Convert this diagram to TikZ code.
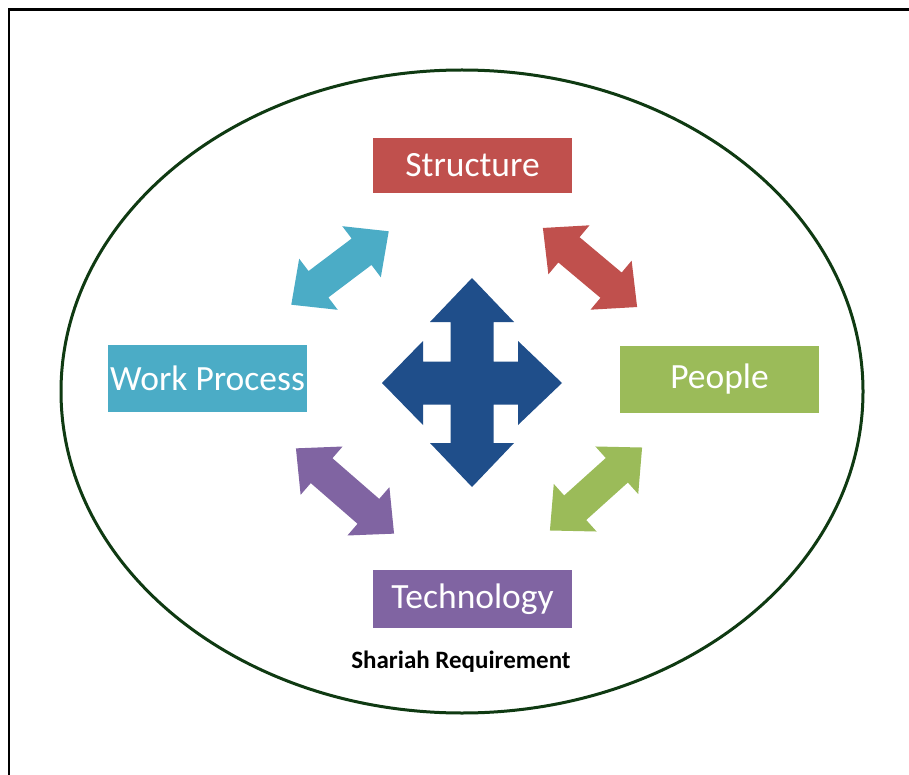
\documentclass[tikz,border=0pt]{standalone}
\usepackage{fontspec}
\setmainfont{Carlito}
\definecolor{cred}{HTML}{C0504D}
\definecolor{caqua}{HTML}{4BACC6}
\definecolor{cgreen}{HTML}{9BBB59}
\definecolor{cpurple}{HTML}{8064A2}
\definecolor{cblue}{HTML}{1F4E8A}
\definecolor{cring}{HTML}{0F3A12}
\tikzset{
  box/.style={inner sep=0pt, text=white, font=\fontsize{35.5}{40}\selectfont, minimum width=199pt},
}
\newcommand{\dblarr}[5]{%
  \begin{scope}[shift={(#1,#2)}, rotate=#3]
    \fill[#5] ({-#4/2},0) -- ({-#4/2+34},-32) -- ({-#4/2+34},-16.5) -- ({#4/2-34},-16.5) -- ({#4/2-34},-32)
      -- ({#4/2},0) -- ({#4/2-34},32) -- ({#4/2-34},16.5) -- ({-#4/2+34},16.5) -- ({-#4/2+34},32) -- cycle;
  \end{scope}}
\begin{document}
\begin{tikzpicture}[x=1pt,y=-1pt]
\useasboundingbox (0,0) rectangle (909,775);
\fill[white] (0,0) rectangle (909,775);
% frame
\draw[line width=2.5pt] (9,775) -- (9,9.5) -- (909,9.5);
% ellipse
\draw[cring, line width=3pt] (462,391.5) ellipse [x radius=401, y radius=321.5];
% boxes
\node[box, fill=cred, minimum height=55pt] (structure) at (472.5,165.5) {Structure};
\node[box, fill=caqua, minimum height=67pt] (work) at (207.5,378.5) {Work Process};
\node[box, fill=cgreen, minimum height=67pt] (people) at (719.5,379.5) {People};
\node[box, fill=cpurple, minimum height=58pt] (tech) at (472.5,599) {Technology};
\node[font=\bfseries\fontsize{25}{30}\selectfont, inner sep=0pt] (shariah) at (461,662) {Shariah Requirement};
% central cross arrow
\fill[cblue] (472,278) -- (514,322) -- (493.5,322) -- (493.5,361.5) -- (518,361.5) -- (518,341) -- (562,383)
  -- (518,425) -- (518,404.5) -- (493.5,404.5) -- (493.5,443) -- (514,443) -- (472,487) -- (430,443)
  -- (450.5,443) -- (450.5,404.5) -- (423,404.5) -- (423,425) -- (382,383) -- (423,341) -- (423,361.5)
  -- (450.5,361.5) -- (450.5,322) -- (430,322) -- cycle;
% diagonal double arrows
\dblarr{340}{268}{37}{122}{caqua}
\dblarr{590}{267.5}{-40}{123}{cred}
\dblarr{345}{491}{-41}{130}{cpurple}
\dblarr{596}{489}{42}{124}{cgreen}
\end{tikzpicture}
\end{document}
